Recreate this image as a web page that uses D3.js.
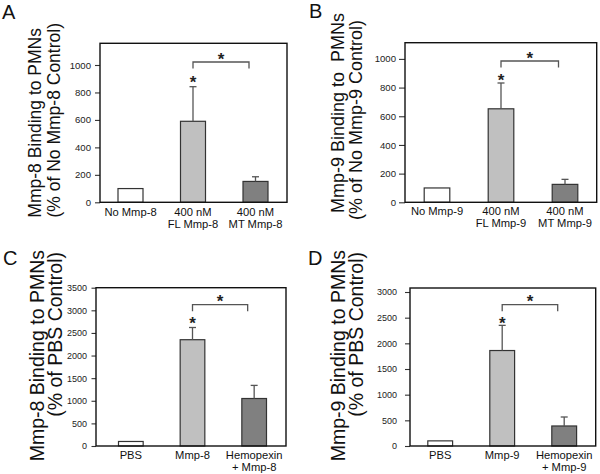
<!DOCTYPE html>
<html><head><meta charset="utf-8">
<script src="https://cdn.jsdelivr.net/npm/d3@7"></script>
<style>html,body{margin:0;padding:0;background:#fff;}svg{display:block;}</style>
</head><body>
<script>
// ---- data ----
const catsA = ["No Mmp-8", "400 nM|FL Mmp-8", "400 nM|MT Mmp-8"];
const meanA = [100, 590, 152];
const errA  = [0, 252, 34];
const catsB = ["No Mmp-9", "400 nM|FL Mmp-9", "400 nM|MT Mmp-9"];
const meanB = [100, 652, 125];
const errB  = [0, 180, 35];
const catsC = ["PBS", "Mmp-8", "Hemopexin|+ Mmp-8"];
const meanC = [100, 2350, 1050];
const errC  = [0, 270, 290];
const catsD = ["PBS", "Mmp-9", "Hemopexin|+ Mmp-9"];
const meanD = [100, 1860, 390];
const errD  = [0, 490, 175];
const ticksA = [0, 200, 400, 600, 800, 1000];
const ticksB = [0, 200, 400, 600, 800, 1000];
const ticksC = [0, 500, 1000, 1500, 2000, 2500, 3000, 3500];
const ticksD = [0, 500, 1000, 1500, 2000, 2500, 3000];
const titleA = ["Mmp-8 Binding to PMNs", "(% of No Mmp-8 Control)"];
const titleB = ["Mmp-9 Binding to  PMNs", "(% of No Mmp-9 Control)"];
const titleC = ["Mmp-8 Binding to PMNs", "(% of PBS Control)"];
const titleD = ["Mmp-9 Binding to PMNs", "(% of PBS Control)"];
const letters = ["A", "B", "C", "D"];

// ---- styles / layout ----
const FONT = "'Liberation Sans', Arial, Helvetica, sans-serif";
const barFills = ["#ffffff", "#c0c0c0", "#808080"];
const W = 600, H = 474;

const panels = [
  {cats: catsA, mean: meanA, err: errA, ticks: ticksA, title: titleA, letter: letters[0],
   x0: 100, x1: 287, y0: 43.3, y1: 202.3, yMax: 1158, band: [99.25, 286.75],
   tickSize: 5, tickPad: 4, tickFont: 9.6, labFont: 11.2, lab1: 215.5, labGap: 12,
   tFont: 17.5, t1: [41, 28], t2: [60, 23], L: [2, 19],
   brY: 18.7, starGap: 7.7},
  {cats: catsB, mean: meanB, err: errB, ticks: ticksB, title: titleB, letter: letters[1],
   x0: 405, x1: 596.7, y0: 42.7, y1: 202.3, yMax: 1113, band: [405, 597],
   tickSize: 6, tickPad: 3, tickFont: 9.6, labFont: 11.2, lab1: 214.8, labGap: 12,
   tFont: 18, t1: [344, 13], t2: [361.5, 20], L: [309, 18],
   brY: 18.3, starGap: 6.7},
  {cats: catsC, mean: meanC, err: errC, ticks: ticksC, title: titleC, letter: letters[2],
   x0: 96, x1: 286, y0: 287.7, y1: 446, yMax: 3500, band: [100, 285],
   tickSize: 4.5, tickPad: 4.5, tickFont: 9, labFont: 11.2, lab1: 458.5, labGap: 12,
   tFont: 19.5, t1: [43.5, 250], t2: [62, 252], L: [3, 265],
   brY: 17, starGap: 8},
  {cats: catsD, mean: meanD, err: errD, ticks: ticksD, title: titleD, letter: letters[3],
   x0: 410, x1: 595.7, y0: 288, y1: 446, yMax: 3078, band: [409.2, 595.2],
   tickSize: 5, tickPad: 8, tickFont: 9, labFont: 11.2, lab1: 458.5, labGap: 12,
   tFont: 19.5, t1: [344.5, 250], t2: [363, 252], L: [308, 265],
   brY: 16.7, starGap: 6}
];

const svg = d3.select("body").append("svg")
  .attr("width", W).attr("height", H)
  .attr("font-family", FONT);

panels.forEach(p => {
  const g = svg.append("g");
  const x = d3.scaleBand().domain(p.cats).range(p.band).paddingInner(0.6).paddingOuter(0.3);
  const y = d3.scaleLinear().domain([0, p.yMax]).range([p.y1, p.y0]);

  // panel letter
  g.append("text").attr("x", p.L[0]).attr("y", p.L[1])
    .attr("font-size", 20).attr("fill", "#111").text(p.letter);

  // y-axis title (two rotated lines)
  [[p.title[0], p.t1], [p.title[1], p.t2]].forEach(([t, pos]) => {
    g.append("text")
      .attr("transform", `translate(${pos[0]},${pos[1]}) rotate(-90)`)
      .attr("text-anchor", "end")
      .attr("font-size", p.tFont)
      .attr("fill", "#111")
      .style("white-space", "pre")
      .attr("xml:space", "preserve")
      .text(t);
  });

  // bars
  g.selectAll("rect.bar").data(p.cats).enter().append("rect")
    .attr("class", "bar")
    .attr("x", d => x(d))
    .attr("width", x.bandwidth())
    .attr("y", (d, i) => y(p.mean[i]))
    .attr("height", (d, i) => y(0) - y(p.mean[i]))
    .attr("fill", (d, i) => barFills[i])
    .attr("stroke", "#333").attr("stroke-width", 1.2);

  // error bars (upper only)
  p.cats.forEach((c, i) => {
    if (!p.err[i]) return;
    const cx = x(c) + x.bandwidth() / 2;
    const top = y(p.mean[i] + p.err[i]);
    g.append("line").attr("x1", cx).attr("x2", cx)
      .attr("y1", y(p.mean[i])).attr("y2", top)
      .attr("stroke", "#555").attr("stroke-width", 1.3);
    g.append("line").attr("x1", cx - 3.5).attr("x2", cx + 3.5)
      .attr("y1", top).attr("y2", top)
      .attr("stroke", "#555").attr("stroke-width", 1.3);
  });

  // axis
  const ax = g.append("g").attr("transform", `translate(${p.x0},0)`)
    .call(d3.axisLeft(y).tickValues(p.ticks).tickFormat(d3.format("d"))
      .tickSize(p.tickSize).tickPadding(p.tickPad).tickSizeOuter(0));
  ax.select(".domain").remove();
  ax.selectAll(".tick line").attr("stroke", "#333").attr("stroke-width", 1.1);
  ax.selectAll(".tick text").attr("font-size", p.tickFont).attr("font-family", FONT).attr("fill", "#222");

  // frame
  g.append("rect").attr("x", p.x0).attr("y", p.y0)
    .attr("width", p.x1 - p.x0).attr("height", p.y1 - p.y0)
    .attr("fill", "none").attr("stroke", "#111").attr("stroke-width", 1.4);

  // category labels
  p.cats.forEach(c => {
    const cx = x(c) + x.bandwidth() / 2;
    const t = g.append("text").attr("text-anchor", "middle")
      .attr("font-size", p.labFont).attr("fill", "#111");
    c.split("|").forEach((line, k) => {
      t.append("tspan").attr("x", cx).attr("y", p.lab1 + k * p.labGap).text(line);
    });
  });

  // significance marks
  const c2 = x(p.cats[1]) + x.bandwidth() / 2;
  const c3 = x(p.cats[2]) + x.bandwidth() / 2 - 6.5;
  const by = p.y0 + p.brY;
  g.append("path")
    .attr("d", `M${c2},${by + 6.5}V${by}H${c3}V${by + 6.5}`)
    .attr("fill", "none").attr("stroke", "#555").attr("stroke-width", 1.3);
  const starTop = (c2 + c3) / 2;
  const errTop = y(p.mean[1] + p.err[1]);
  [[starTop, by - 7], [c2, errTop - p.starGap]].forEach(([sx, sy]) => {
    g.append("text").attr("x", sx).attr("y", sy + 9.5)
      .attr("text-anchor", "middle").attr("font-size", 17)
      .attr("font-weight", "bold").attr("fill", "#222").text("*");
  });
});
</script>
</body></html>
